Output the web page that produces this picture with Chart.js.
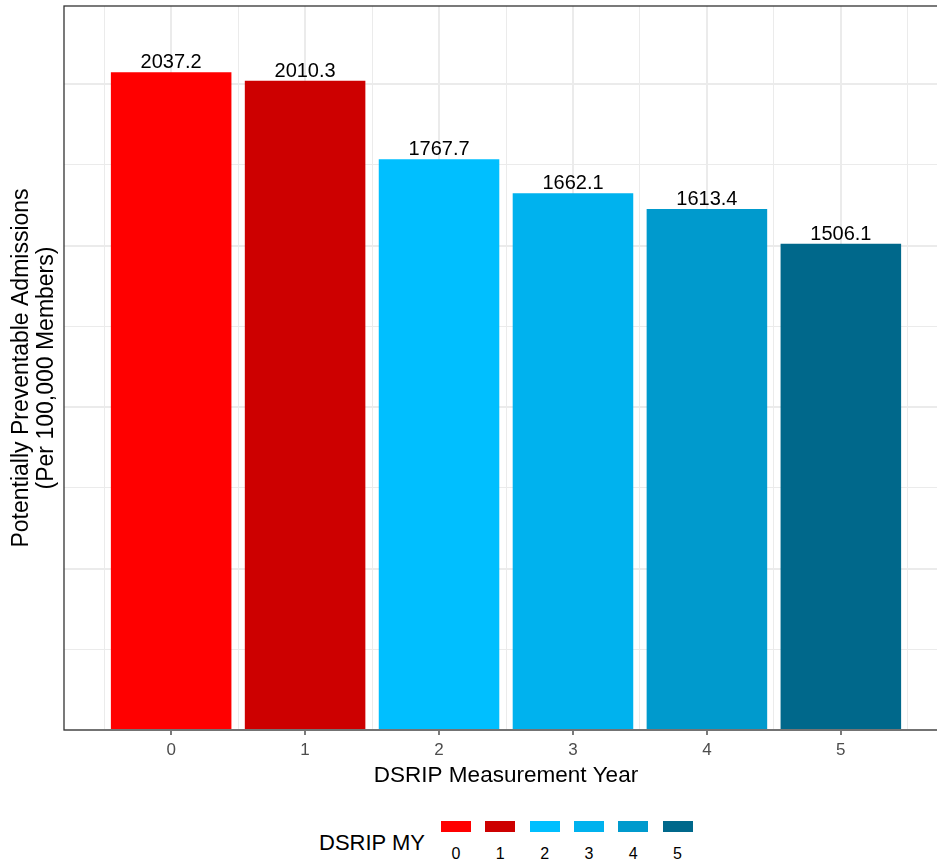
<!DOCTYPE html>
<html>
<head>
<meta charset="utf-8">
<script src="https://cdn.jsdelivr.net/npm/chart.js@4/dist/chart.umd.min.js"></script>
<style>
  html, body { margin: 0; padding: 0; background: #fff; overflow: hidden; width: 937px; height: 864px; }
  #wrap { position: relative; width: 937px; height: 864px; overflow: hidden; }
  #c { position: absolute; left: 0; top: 0; }
  .lg { position: absolute; font-family: "Liberation Sans", Arial, sans-serif; color: #000; white-space: nowrap; }
</style>
</head>
<body>
<div id="wrap">
  <canvas id="c" width="950" height="800"></canvas>
  <div id="legend"></div>
</div>
<script>
// ---- data ----
const categories = ['0', '1', '2', '3', '4', '5'];
const values = [2037.2, 2010.3, 1767.7, 1662.1, 1613.4, 1506.1];
const colors = ['#FF0000', '#CD0000', '#00BFFF', '#00B2EE', '#009ACD', '#00688B'];
const xTitle = 'DSRIP Measurement Year';
const yTitle = ['Potentially Preventable Admissions', '(Per 100,000 Members)'];
const legendTitle = 'DSRIP MY';

const FONT = '"Liberation Sans", Arial, sans-serif';
const GRID = '#EBEBEB';

const xTicks = [];
for (let v = -0.5; v <= categories.length - 0.5 + 1e-9; v += 0.5) xTicks.push(v);
const yTicks = [];
for (let v = 0; v <= 2000; v += 250) yTicks.push(v);

const isMajorX = v => Math.abs(v - Math.round(v)) < 1e-9;
const isMajorY = v => v % 500 === 0;
const tv = c => (c && c.tick) ? c.tick.value : null;

const valueLabels = {
  id: 'valueLabels',
  afterDatasetsDraw(chart) {
    const ctx = chart.ctx;
    const meta = chart.getDatasetMeta(0);
    ctx.save();
    ctx.font = '20px ' + FONT;
    ctx.fillStyle = '#000';
    ctx.textAlign = 'center';
    ctx.textBaseline = 'alphabetic';
    meta.data.forEach((el, i) => {
      ctx.fillText(values[i].toFixed(1), el.x, el.y - 4);
    });
    ctx.restore();
  }
};

const panelBorder = {
  id: 'panelBorder',
  afterDatasetsDraw(chart) {
    const {ctx, chartArea: a} = chart;
    ctx.save();
    ctx.strokeStyle = '#333333';
    ctx.lineWidth = 1.3;
    ctx.strokeRect(a.left, a.top, a.right - a.left, a.bottom - a.top);
    ctx.restore();
  }
};

new Chart(document.getElementById('c'), {
  type: 'bar',
  data: {
    datasets: [{
      data: values.map((v, i) => ({x: i, y: v})),
      backgroundColor: colors,
      borderWidth: 0,
      barPercentage: 0.9,
      // minor ticks sit at half-steps, so the sample ruler is half a category wide
      categoryPercentage: 2.0
    }]
  },
  options: {
    responsive: false,
    devicePixelRatio: 1,
    animation: false,
    layout: { padding: { left: 0, right: 2, top: 6, bottom: 0 } },
    plugins: { legend: { display: false }, tooltip: { enabled: false } },
    scales: {
      x: {
        type: 'linear',
        offset: false,
        min: -0.8,
        max: 5.8,
        afterBuildTicks: s => { s.ticks = xTicks.map(v => ({value: v})); },
        afterFit: s => { s.height = 70; },
        grid: {
          offset: false,
          color: GRID,
          lineWidth: c => { const v = tv(c); return (v !== null && isMajorX(v)) ? 2 : 1; },
          drawTicks: true,
          tickLength: 5,
          tickColor: c => { const v = tv(c); return (v !== null && isMajorX(v)) ? '#333333' : 'rgba(0,0,0,0)'; },
          tickWidth: 1.3
        },
        border: { display: false },
        ticks: {
          autoSkip: false,
          maxRotation: 0,
          padding: 5,
          color: '#4D4D4D',
          font: { family: FONT, size: 17 },
          callback: v => isMajorX(v) ? categories[Math.round(v)] : ''
        },
        title: {
          display: true,
          text: xTitle,
          color: '#000',
          font: { family: FONT, size: 22.5 },
          padding: { top: 0, bottom: 11 }
        }
      },
      y: {
        min: 0,
        max: 2242,
        afterBuildTicks: s => { s.ticks = yTicks.map(v => ({value: v})); },
        afterFit: s => { s.width = 64; },
        grid: {
          color: GRID,
          lineWidth: c => { const v = tv(c); return (v !== null && isMajorY(v)) ? 2 : 1; },
          drawTicks: false
        },
        border: { display: false },
        ticks: { display: false },
        title: {
          display: true,
          text: yTitle,
          color: '#000',
          font: { family: FONT, size: 23, lineHeight: 1.05 },
          padding: { top: 10, bottom: 0 }
        }
      }
    }
  },
  plugins: [valueLabels, panelBorder]
});

// ---- legend (HTML) ----
const lg = document.getElementById('legend');
const t = document.createElement('div');
t.className = 'lg';
t.textContent = legendTitle;
t.style.left = '319px';
t.style.top = '832px';
t.style.fontSize = '22px';
t.style.lineHeight = '22px';
lg.appendChild(t);
categories.forEach((c, i) => {
  const cx = 456 + i * 44.3;
  const key = document.createElement('div');
  key.style.position = 'absolute';
  key.style.left = (cx - 15) + 'px';
  key.style.top = '821px';
  key.style.width = '30px';
  key.style.height = '11px';
  key.style.background = colors[i];
  lg.appendChild(key);
  const lab = document.createElement('div');
  lab.className = 'lg';
  lab.textContent = c;
  lab.style.left = (cx - 20) + 'px';
  lab.style.width = '40px';
  lab.style.textAlign = 'center';
  lab.style.top = '846px';
  lab.style.fontSize = '16px';
  lab.style.lineHeight = '16px';
  lg.appendChild(lab);
});
</script>
</body>
</html>
